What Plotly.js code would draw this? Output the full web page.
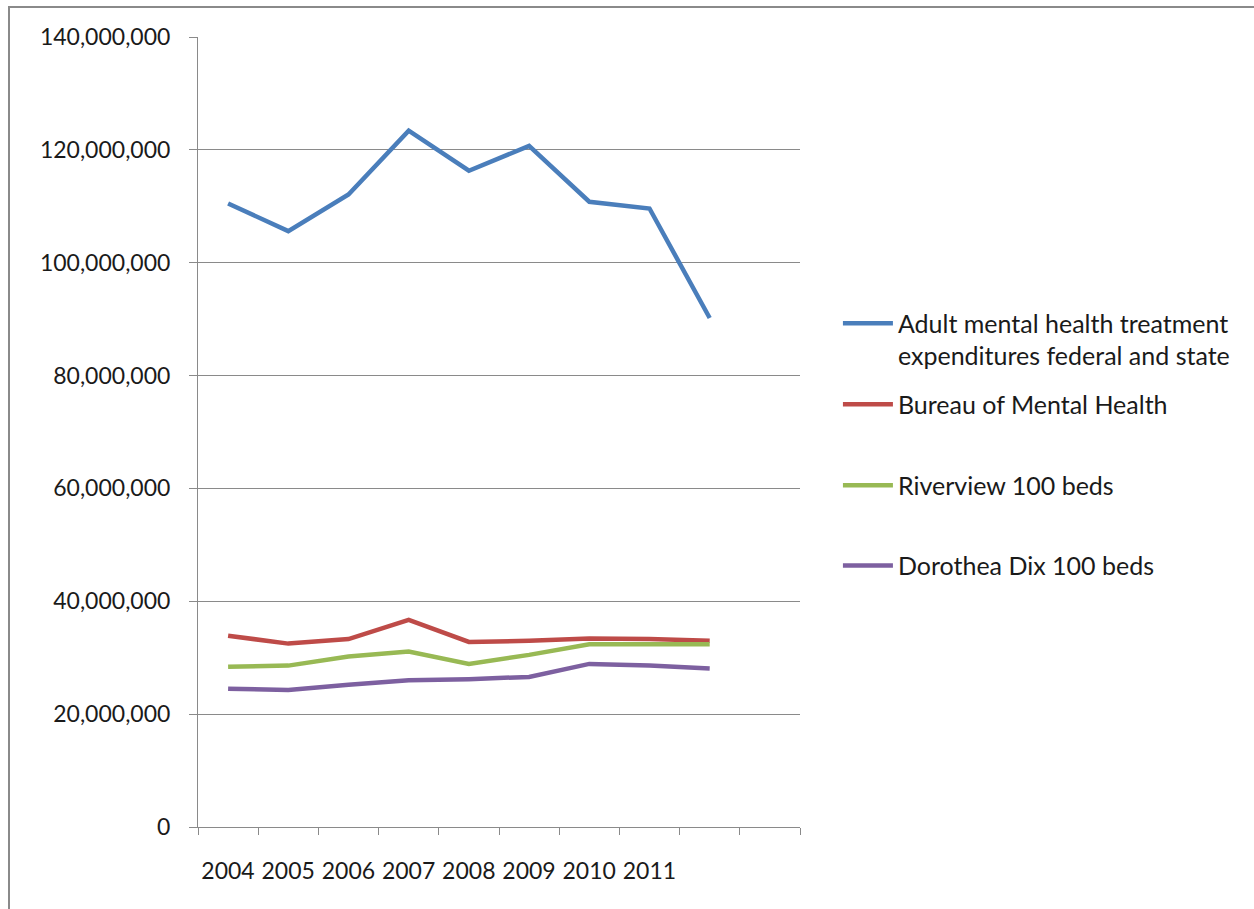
<!DOCTYPE html>
<html>
<head>
<meta charset="utf-8">
<script src="https://cdn.plot.ly/plotly-3.0.1.min.js"></script>
<style>
html,body{margin:0;padding:0;background:#fff;}
#wrap{position:relative;width:1254px;height:909px;overflow:hidden;}
#chart{position:absolute;left:0;top:0;width:1254px;height:909px;}
#frame{position:absolute;left:8px;top:6px;width:1260px;height:920px;border-left:2px solid #8a8a8a;border-top:2px solid #8a8a8a;pointer-events:none;}
</style>
</head>
<body>
<div id="wrap"><div id="chart"></div><div id="frame"></div></div>
<script>
// Category labels (x axis) and series values
const years = ['2004','2005','2006','2007','2008','2009','2010','2011'];
const nCategories = 10;
const adultMH = [110500000,105600000,112100000,123400000,116300000,120700000,110800000,109600000,90200000];
const bureauMH = [33900000,32500000,33300000,36700000,32800000,33000000,33400000,33300000,33000000];
const riverview = [28400000,28600000,30200000,31100000,28900000,30500000,32400000,32400000,32400000];
const dorotheaDix = [24500000,24300000,25200000,26000000,26200000,26600000,28900000,28600000,28100000];

const seriesNames = [
  'Adult mental health treatment<br>expenditures federal and state',
  'Bureau of Mental Health',
  'Riverview 100 beds',
  'Dorothea Dix 100 beds'
];
const seriesValues = [adultMH, bureauMH, riverview, dorotheaDix];
const colors = ['#4a7ebb','#be4b48','#98b954','#7d60a0'];
const legendY = [0.6172, 0.5349, 0.4322, 0.3308];

const FONT = 'Lato, "Open Sans", sans-serif';

const traces = seriesValues.map((vals, i) => ({
  type: 'scatter',
  mode: 'lines',
  x: vals.map((_, k) => k),
  y: vals,
  name: seriesNames[i],
  line: {color: colors[i], width: 4.5},
  legend: i === 0 ? 'legend' : 'legend' + (i + 1),
  hoverinfo: 'x+y'
}));

// tick positions at category boundaries; labels shifted to category centers
const bounds = [];
const btext = [];
for (let k = 0; k <= nCategories; k++) {
  bounds.push(k - 0.5);
  btext.push(k < years.length ? years[k] : '');
}

const legendBase = {
  x: 1.063, xanchor: 'left', yanchor: 'middle',
  bgcolor: 'rgba(0,0,0,0)',
  font: {family: FONT, size: 25, color: '#1a1a1a'},
  itemwidth: 50,
  tracegroupgap: 0
};
const layout = {
  width: 1254, height: 909,
  margin: {l: 198, r: 454, t: 37, b: 82},
  paper_bgcolor: '#ffffff',
  plot_bgcolor: '#ffffff',
  font: {family: FONT, size: 23, color: '#1a1a1a'},
  showlegend: true,
  xaxis: {
    range: [-0.5, nCategories - 0.5],
    tickmode: 'array',
    tickvals: bounds,
    ticktext: btext,
    ticklabelshift: 30,
    ticklabelstandoff: 16,
    ticks: 'outside', ticklen: 7, tickcolor: '#8a8a8a', tickwidth: 1,
    showline: true, linecolor: '#8a8a8a', linewidth: 1,
    showgrid: false, zeroline: false,
    tickfont: {family: FONT, size: 23, color: '#1a1a1a'}
  },
  yaxis: {
    range: [0, 140000000],
    tickmode: 'linear', tick0: 0, dtick: 20000000,
    tickformat: ',d',
    ticks: 'outside', ticklen: 8, tickcolor: '#8a8a8a', tickwidth: 1,
    ticklabelstandoff: 14,
    showline: true, linecolor: '#8a8a8a', linewidth: 1,
    showgrid: true, gridcolor: '#8a8a8a', gridwidth: 1,
    zeroline: false,
    tickfont: {family: FONT, size: 23, color: '#1a1a1a'}
  },
  legend: Object.assign({}, legendBase, {y: legendY[0], valign: 'top'}),
  legend2: Object.assign({}, legendBase, {y: legendY[1]}),
  legend3: Object.assign({}, legendBase, {y: legendY[2]}),
  legend4: Object.assign({}, legendBase, {y: legendY[3]})
};

Plotly.newPlot('chart', traces, layout, {displayModeBar: false, staticPlot: true});
</script>
</body>
</html>
